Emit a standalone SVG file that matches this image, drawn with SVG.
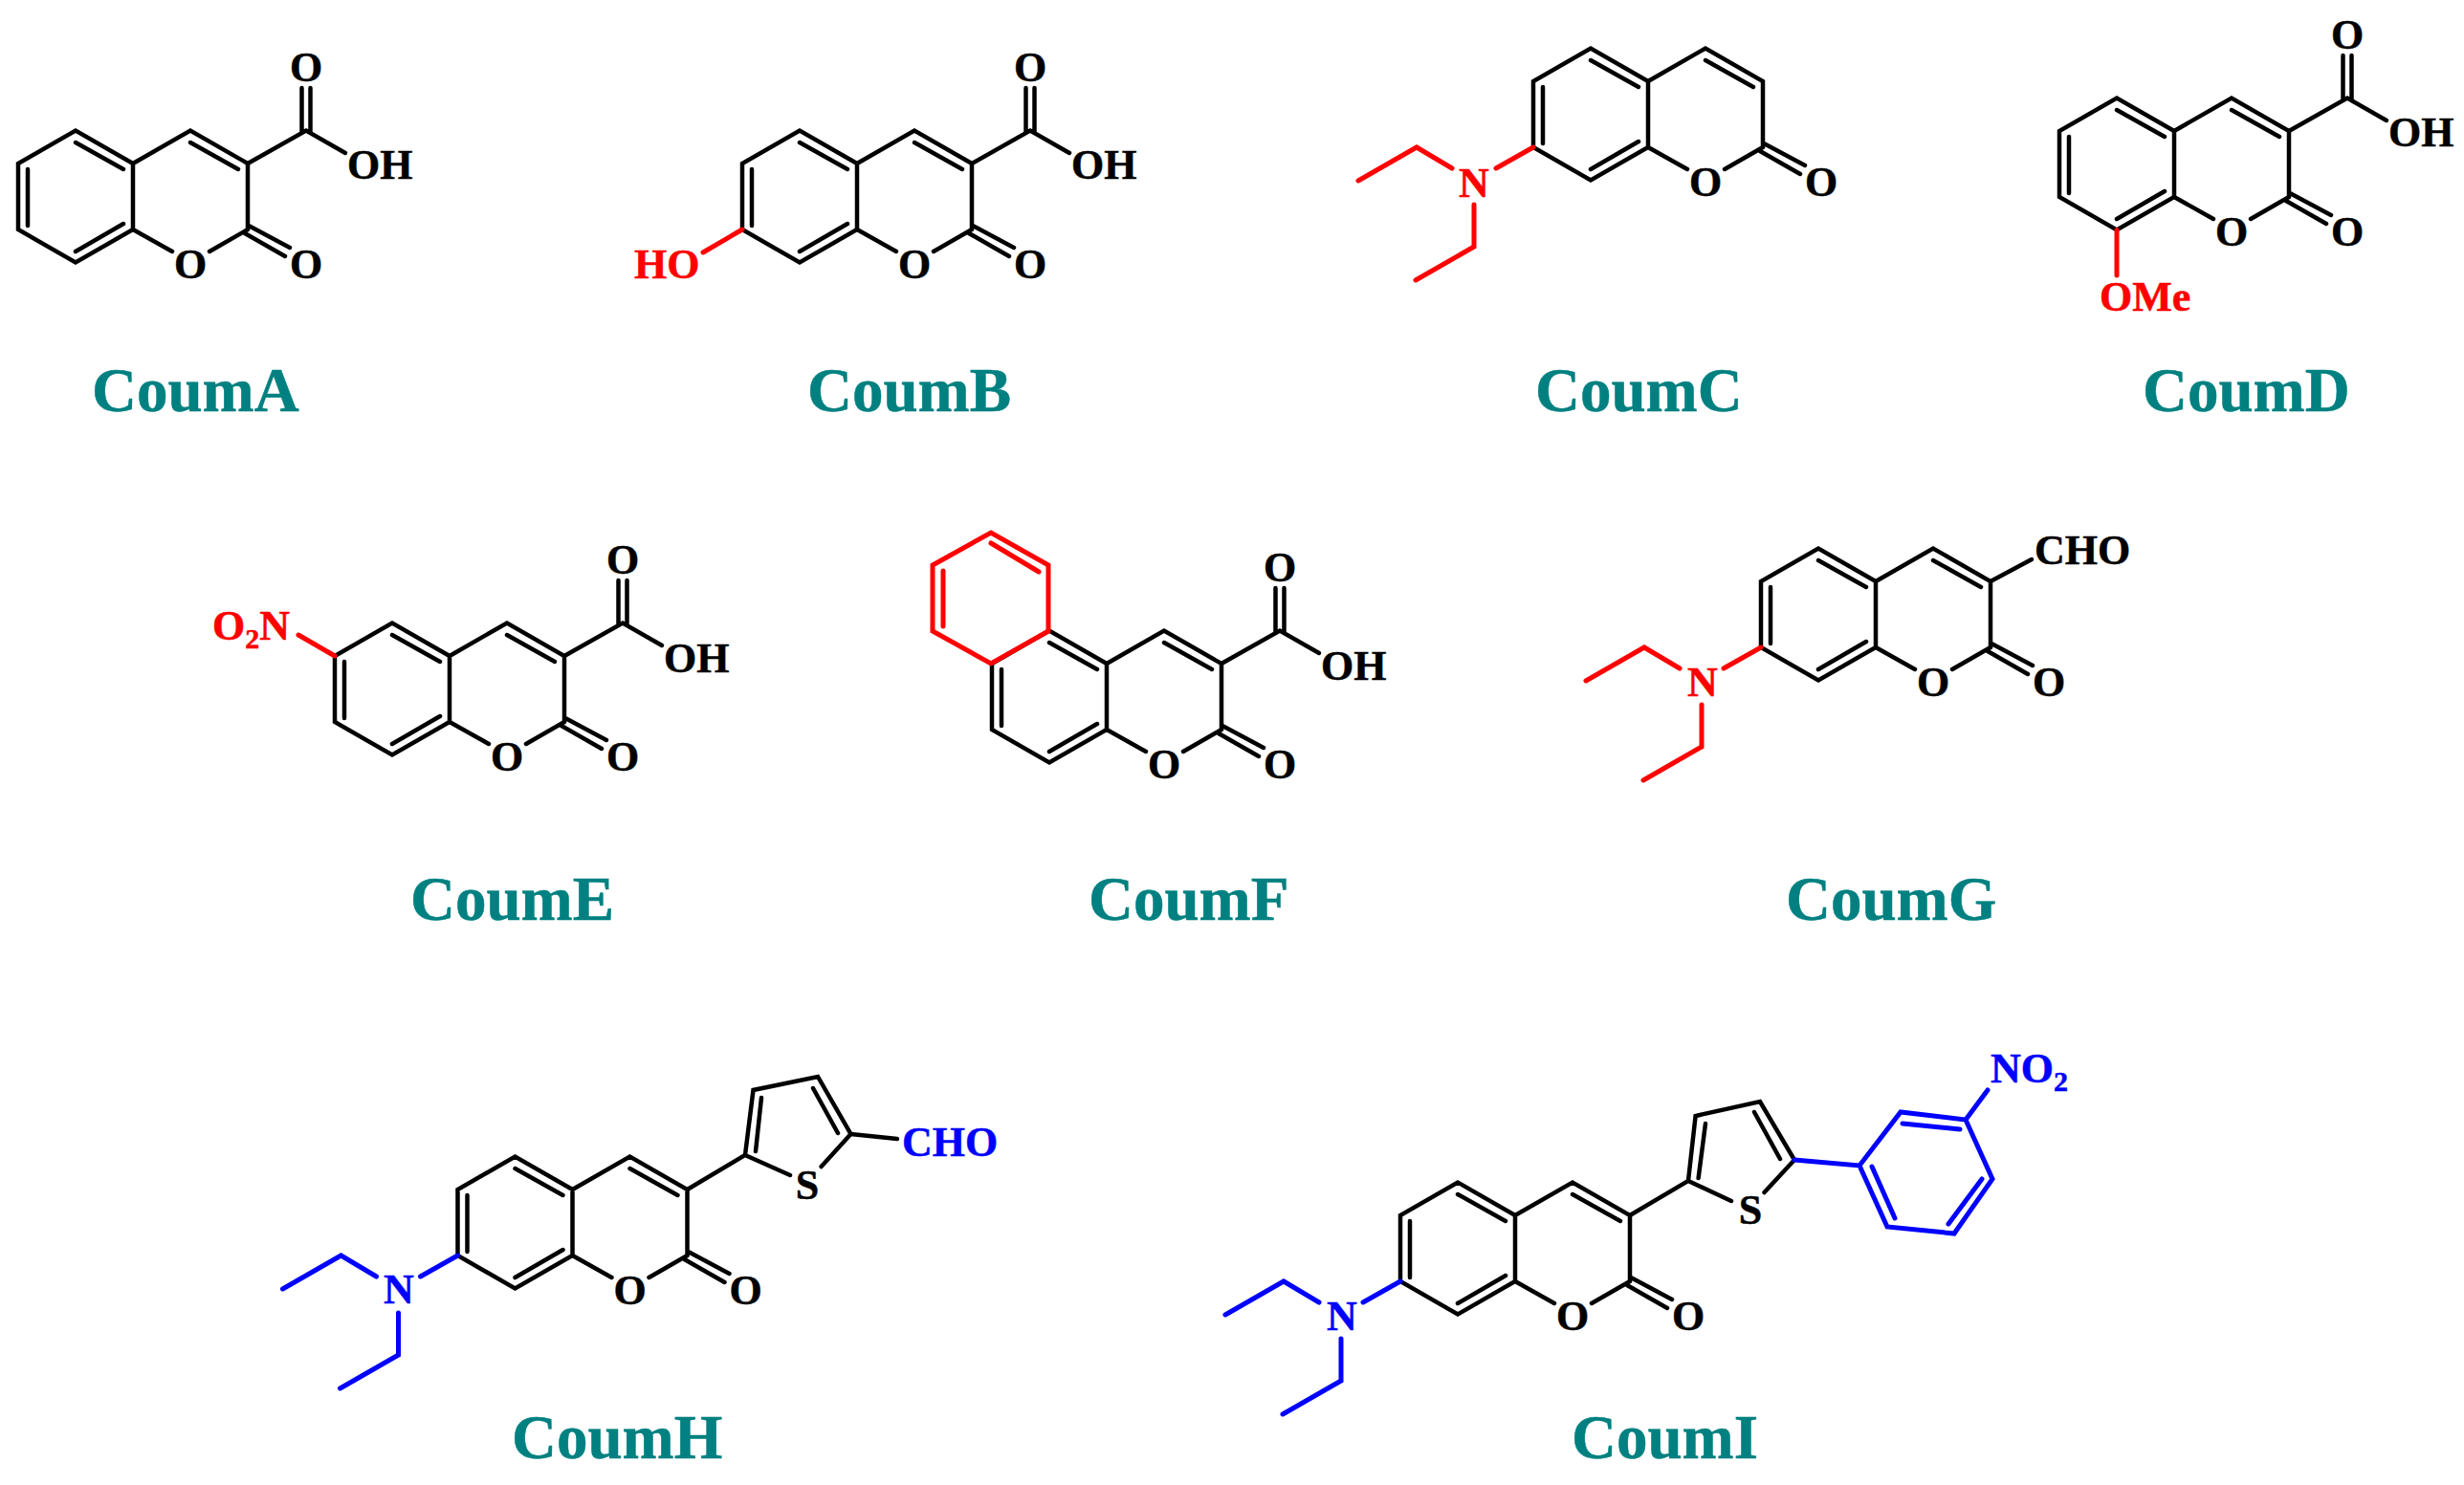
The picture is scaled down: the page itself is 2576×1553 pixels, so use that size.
<svg xmlns="http://www.w3.org/2000/svg" width="2576" height="1553" viewBox="0 0 2576 1553">
<style>
text{font-family:"Liberation Serif","Times New Roman",serif;font-weight:bold;stroke-width:.5}
.a{font-size:44px;fill:#000;stroke:#000}
.m{text-anchor:middle}
.r{fill:#f00;stroke:#f00}
.b{fill:#00f;stroke:#00f}
.t{font-size:65px;fill:#008080;stroke:#008080}
.s{font-size:30px}
.k,.kr,.kb{fill:none;stroke-linecap:round;stroke-linejoin:miter}
.k{stroke:#000;stroke-width:4.5}
.kr{stroke:#f00;stroke-width:5}
.kb{stroke:#00f;stroke-width:5}
</style>
<defs>
<path id="core" class="k" d="M0 0L-60-34.5L-120 0V69L-60 103.5L0 69ZM0 0L60-34.5L120 0V69M-60-22L-10 6M-110 6V65M-60 92L-10 63M60-22L110 6M0 69L41 92M80 92L120 69M121 65L164 88M117 73L159 97"/>
<path id="cooh" class="k" d="M120 0L181-34.5L222-11M176.500-79V-33M185.500-79V-33"/>
<path id="net2" d="M-120 69L-159 91M-205 91L-242 69L-303 104M-182 129V173L-243 208"/>
</defs>

<g id="CoumA">
<g transform="translate(139 171)"><use href="#core"/><use href="#cooh"/></g>
<text class="a m" x="199" y="291">O</text><text class="a m" x="320" y="291">O</text><text class="a m" x="320" y="85">O</text><text class="a" x="363" y="187">OH</text>
<text class="t" x="96" y="430">CoumA</text>
</g>

<g id="CoumB">
<g transform="translate(896 171)"><use href="#core"/><use href="#cooh"/><path class="kr" d="M-120 69L-161 93"/></g>
<text class="a m" x="956" y="291">O</text><text class="a m" x="1077" y="291">O</text><text class="a m" x="1077" y="85">O</text><text class="a" x="1120" y="187">OH</text>
<text class="a r" x="663" y="291">HO</text>
<text class="t" x="844" y="430">CoumB</text>
</g>

<g id="CoumC">
<g transform="translate(1723 85)"><use href="#core"/><use href="#net2" class="kr"/></g>
<text class="a m" x="1783" y="205">O</text><text class="a m" x="1904" y="205">O</text>
<text class="a m r" x="1541" y="206">N</text>
<text class="t" x="1605" y="430">CoumC</text>
</g>

<g id="CoumD">
<g transform="translate(2273 137)"><use href="#core"/><use href="#cooh"/><path class="kr" d="M-60 103.5V151"/></g>
<text class="a m" x="2333" y="257">O</text><text class="a m" x="2454" y="257">O</text><text class="a m" x="2454" y="51">O</text><text class="a" x="2497" y="153">OH</text>
<text class="a r" x="2195" y="325">OMe</text>
<text class="t" x="2240" y="430">CoumD</text>
</g>

<g id="CoumE">
<g transform="translate(470 686)"><use href="#core"/><use href="#cooh"/><path class="kr" d="M-120 0L-158-22"/></g>
<text class="a m" x="530" y="806">O</text><text class="a m" x="651" y="806">O</text><text class="a m" x="651" y="600">O</text><text class="a" x="694" y="703">OH</text>
<text class="a r" x="222" y="669">O<tspan class="s" dy="9">2</tspan><tspan dy="-9">N</tspan></text>
<text class="t" x="429" y="962">CoumE</text>
</g>

<g id="CoumF">
<g transform="translate(1157 694)"><use href="#core"/><use href="#cooh"/></g>
<path class="kr" d="M1096 660L1036 694L975 660V591L1036 557L1096 591ZM1036 568L1086 598M986 597V655"/>
<text class="a m" x="1217" y="814">O</text><text class="a m" x="1338" y="814">O</text><text class="a m" x="1338" y="608">O</text><text class="a" x="1381" y="711">OH</text>
<text class="t" x="1138" y="962">CoumF</text>
</g>

<g id="CoumG">
<g transform="translate(1961 608)"><use href="#core"/><path class="k" d="M120 0L163-23"/><use href="#net2" class="kr"/></g>
<text class="a m" x="2021" y="728">O</text><text class="a m" x="2142" y="728">O</text>
<text class="a" x="2127" y="590">CHO</text>
<text class="a m r" x="1780" y="728">N</text>
<text class="t" x="1867" y="962">CoumG</text>
</g>

<g id="CoumH">
<g transform="translate(598.5 1244)"><use href="#core"/><use href="#net2" class="kb"/></g>
<path class="k" d="M718.5 1244L779 1208L787.5 1140L855 1126L889.5 1186L858.6 1220M779 1208L826 1229M790 1204L796 1148M850 1138L876 1185"/>
<path class="k" d="M889.5 1186L938 1191"/>
<text class="a m" x="658.5" y="1364">O</text><text class="a m" x="779.5" y="1364">O</text>
<text class="a m" x="844" y="1254">S</text>
<text class="a b" x="943" y="1209">CHO</text>
<text class="a m b" x="417" y="1363">N</text>
<text class="t" x="535" y="1525">CoumH</text>
</g>

<g id="CoumI">
<g transform="translate(1584 1271)"><use href="#core"/><use href="#net2" class="kb"/></g>
<path class="k" d="M1704 1271L1765 1235L1772.6 1167L1840 1152L1876 1213L1844.500 1247M1765 1235L1810 1256M1775.600 1232L1783 1175M1834 1163L1861 1212"/>
<path class="kb" d="M1876 1213L1944 1219L1987 1163L2055 1171L2083 1233L2043 1290L1973 1283L1944 1219M1989 1175L2049 1181M2072 1233L2037 1280M1957 1220L1981 1274M2055 1171L2078 1140"/>
<text class="a m" x="1644" y="1391">O</text><text class="a m" x="1765" y="1391">O</text>
<text class="a m" x="1830" y="1280">S</text>
<text class="a b" x="2081" y="1132">NO<tspan class="s" dy="9">2</tspan></text>
<text class="a m b" x="1403" y="1391">N</text>
<text class="t" x="1643" y="1525">CoumI</text>
</g>
</svg>
